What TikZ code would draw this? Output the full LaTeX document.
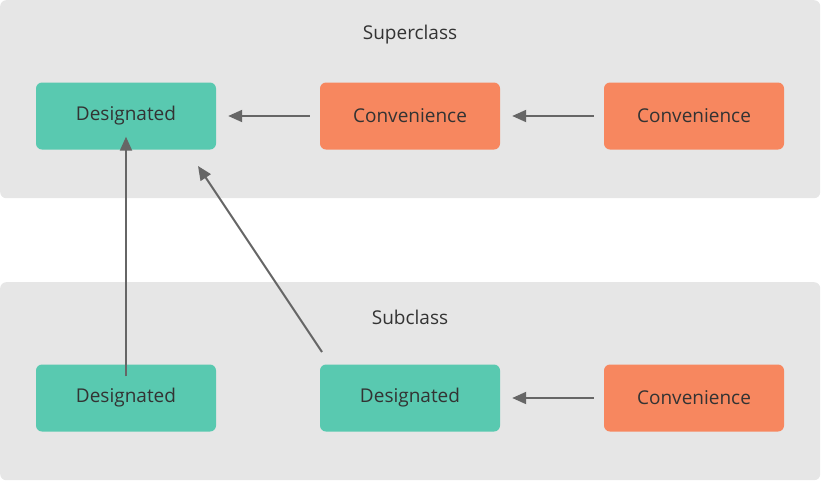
\documentclass[tikz,border=0pt]{standalone}
\usepackage{fontspec}
\setmainfont{Open Sans}
\usetikzlibrary{arrows.meta,positioning}
\definecolor{panelgray}{HTML}{E6E6E6}
\definecolor{desgreen}{HTML}{59C9B0}
\definecolor{convorange}{HTML}{F7875F}
\definecolor{arrowgray}{HTML}{666666}
\tikzset{
  panel/.style={fill=panelgray,rounded corners=6pt,minimum width=820pt,minimum height=198pt,inner sep=0pt},
  init/.style={rounded corners=6pt,minimum width=180pt,minimum height=67pt,text=black!80,font=\fontsize{19pt}{22pt}\selectfont},
  designated/.style={init,fill=desgreen},
  convenience/.style={init,fill=convorange},
  title/.style={text=black!80,font=\fontsize{19pt}{22pt}\selectfont},
  delegate/.style={draw=arrowgray,line width=2pt,-{Triangle[length=14pt,width=12pt]}}
}
\begin{document}
\begin{tikzpicture}[x=1pt,y=-1pt]
\useasboundingbox (0,0) rectangle (822,480);

% PANELS
\node[panel,anchor=north west] (superpanel) at (0,0) {};
\node[panel,anchor=north west] (subpanel) at (0,282) {};
\node[title] (supertitle) at (410,35) {Superclass};
\node[title] (subtitle) at (410,317) {Subclass};

% SUPERCLASS
\node[designated] (supD) at (126,116) {Designated};
\node[convenience] (supC) at (410,116) {Convenience};
\node[convenience] (supCC) at (694,116) {Convenience};

% SUBCLASS
\node[designated] (subDA) at (126,398) {Designated};
\node[designated] (subDB) at (410,398) {Designated};
\node[convenience] (subC) at (694,398) {Convenience};

% ARROWS
\coordinate (diagstart) at (322,352);
\coordinate (diagend) at (198,166);
\draw[delegate] (supC.west) ++(-10,0) -- ([xshift=12pt]supD.east);
\draw[delegate] (supCC.west) ++(-10,0) -- ([xshift=12pt]supC.east);
\draw[delegate] (subC.west) ++(-10,0) -- ([xshift=12pt]subDB.east);
\draw[delegate] ([yshift=-12pt]subDA.north) -- ([yshift=13pt]supD.south);
\draw[delegate] (diagstart) -- (diagend);
\end{tikzpicture}
\end{document}
